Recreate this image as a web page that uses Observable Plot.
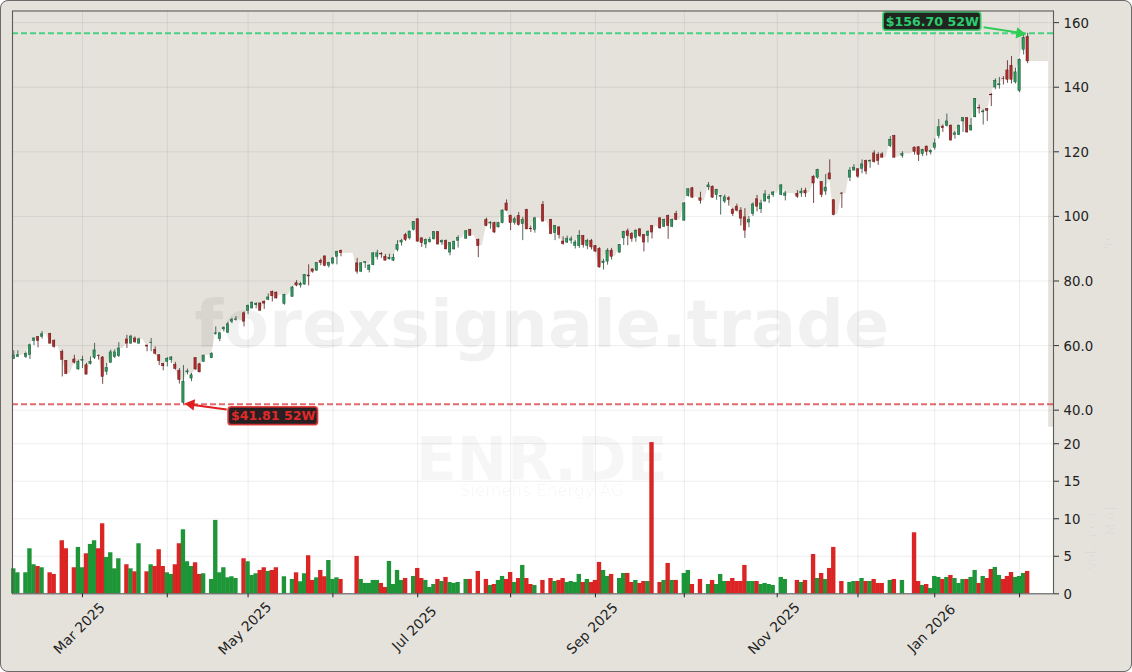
<!DOCTYPE html>
<html>
<head>
<meta charset="utf-8">
<script src="https://cdn.jsdelivr.net/npm/d3@7"></script>
<script src="https://cdn.jsdelivr.net/npm/@observablehq/plot@0.6"></script>
<style>
html,body{margin:0;padding:0;background:#fff}
#wrap{position:relative;width:1132px;height:672px;overflow:hidden}
#wrap svg{display:block;border-radius:8px}
#edge{position:absolute;inset:0;box-sizing:border-box;border:1.5px solid #6b6b6b;border-radius:8px;pointer-events:none}
</style>
</head>
<body>
<div id="wrap"><div id="edge"></div></div>
<script>
const opens = [
55.9,56.5,56.9,56.5,57.1,61.4,62.6,62.7,63.6,63.6,
61.4,59.7,58,55.2,51.4,55.7,52.6,55.3,53.9,54.3,
56.2,56.9,56.3,51.9,54.7,56.5,56.7,59.1,61.9,60.6,
62.2,60.6,61.9,60,60.8,58.6,57,54.3,55,55.5,
54,52.2,42.3,51.7,49.8,56.1,54.2,55,56.9,56.1,
63.6,62,65,64,67.4,67.9,67.9,70,70.7,71.5,
72.5,73.05,73.6,74.2,76.6,76.4,75.7,72.9,75.7,75.1,
79.3,78.6,78.9,81.7,83.6,83.2,86.2,87.6,84.7,85.4,
87.5,89.3,88.6,88.6,88.6,85.45,82.9,85.6,83.4,84.9,
87.5,88.3,87.5,86.7,86.3,89.6,91.9,94.2,93.2,95.8,
99.1,93.2,91.3,92,92.9,95.1,91.9,92.4,88.8,89.8,
92.4,93.2,93.1,95.8,94.1,92.7,91,98.9,97.8,97.9,
96.6,97.9,104,100.1,98,100.1,97.6,102,96.2,95.8,
99.4,103.5,98.5,98.9,94.8,96.6,92.2,91.9,92.5,90.9,
90.8,93.9,90.9,92.4,90.8,89.9,85.5,86,89.4,87.7,
88.8,93.2,95.4,94.5,93.4,96,94.2,93.9,97,97,
99.4,96.8,100.1,96.8,100.7,98.9,98.7,106.3,108.7,105.9,
105.6,104.9,109,109.2,106.6,106.1,104.6,105.6,102,103,
101.8,99.7,98.1,100.7,105.3,102.2,104.6,105.4,106.6,107.1,
106.7,106.4,107.1,107.1,107,107.1,107.9,107.3,112.3,112,
110.6,107.7,113.3,105,100.6,107.1,106.9,112,114.2,114.6,
114.7,117.2,117,119.5,119,119.2,118.2,121.8,124.9,118.3,
118.7,119.3,119.3,121.3,121.4,119.3,121.6,119.8,121.2,124.9,
127.8,128,128.1,125.2,125.2,129.4,130.4,126.6,130.7,133.5,
132.2,133.2,137.6,139.9,140.6,142.6,145.2,146.6,141.5,138.8,
151.6,155.5];
const highs = [
58.4,58.4,56.9,58,60.5,62.4,62.8,64.3,63.6,63.8,
61.8,59.7,58.6,55.4,51.4,57,55.5,56.7,54.5,56.5,
60.7,57,56.6,54.5,58.6,58.7,60.9,59.1,63.2,63.2,
62.7,62.3,61.9,60.1,62.2,59.6,57.2,54.5,56.3,56.6,
54.8,52.9,53.8,52.7,51.4,56.3,54.5,57,56.9,57.8,
65.8,64.1,65.8,67.2,68.5,69,67.9,70.4,72.6,73.5,
73.3,73.2,73.8,76,76.9,76.6,75.7,75.9,75.7,78.3,
80.1,79.6,82,85,83.7,85.7,86.8,87.8,85.8,87.3,
89.2,89.6,88.6,88.6,88.6,87,85.7,86,85,88.8,
89.5,88.8,88.2,88.3,88.3,92.5,92.9,94.8,95.5,98.4,
99.3,93.4,93,93.5,95.3,95.3,92.7,92.7,91.9,92.4,
94,93.2,95.6,96,94.1,93,91,99.5,98.4,98.2,
98.2,102,105.1,100.4,99.7,101.2,99.7,102.2,97,99.7,
99.4,104.6,98.5,99.1,97.2,96.8,93.7,93.9,93.7,92.5,
95.6,94.1,92.9,92.9,91,90.3,86.7,90,90.1,87.7,
91.3,95.4,96.1,95,95.8,96.2,94.4,95.6,97.2,97,
99.6,99.2,100.4,99.2,101.6,98.9,104.3,108.5,109,105.9,
107.5,104.9,110.5,109.4,108.4,106.4,106.6,106.1,102.5,103.8,
102.7,102.4,99.9,104.2,106.5,105,108,106.8,107.7,107.1,
109.9,107.7,107.1,107.1,108,108.7,108.7,107.3,112.6,114.6,
110.8,113,117.5,105.2,100.6,107.3,106.9,115.1,116,114.8,
117.5,117.4,117.5,120.3,119.7,119.7,118.2,124.7,125.1,118.3,
120,119.3,119.3,121.5,121.6,120.8,121.8,120.6,124,130,
128.3,131.7,128.3,126.3,128.3,130.6,130.6,130.3,136.5,134.5,
133,133.4,138.1,142.6,143,143.3,148.2,149.5,145.9,148.8,
156.3,156.7];
const lows = [
55.7,56.3,56.9,56,55.7,60,59.3,62,63.6,60.6,
59.2,59.7,50.3,51,51.4,54.3,52.4,52.9,51,54,
55.7,55.5,48,50.8,54.5,56,56.3,59.1,59.1,60.4,
60.7,60.4,61.9,58.1,58.1,57.1,53.8,52.2,53.4,54.5,
52.4,48.1,41.81,50.9,48.8,52.4,51.6,54.8,56.9,56,
63.2,61.2,64.2,63.7,66.8,67.6,67.9,65.8,69.6,71.3,
71.4,70.7,71.2,73.9,73.5,74.4,75.7,72.5,75.7,75,
78.2,77.8,78.7,78.5,82.4,83,84.7,84.4,84,85,
85,87.5,88.6,88.6,88.6,82.1,82.6,83.9,82.5,84.7,
86.5,87,86.2,86.5,86,89,90.8,92.2,92.7,95.5,
92,90.4,90,91.7,92.7,91.1,91,89.6,87.8,89.5,
90.2,93.2,93,93.8,94.1,87.2,91,96.8,96,94.8,
96.4,97.7,101.6,95.6,97.3,97,92.5,95.8,95,94.8,
99.4,98.2,98.5,94.3,92.5,93,91.1,91.6,91.4,89.9,
90.1,90.2,89.7,89.6,88.9,84,83.4,84.9,86.5,87.7,
88.6,91,90.9,92,92,93.5,89,91.8,93,97,
96,96.5,92.9,96.5,98.7,98.9,98.5,106,105.6,105.9,
103.8,104.9,108,105.6,105,100.4,104,103.2,100,101.4,
97,93.2,96.5,100,101.4,100.9,104.4,104,105.9,107.1,
106.4,104.8,107.1,107.1,105.6,105.9,105.9,107.3,104,111.5,
105.8,106.5,111.2,100.2,100.6,102.5,106.9,110.8,114,111.8,
113.2,112.9,114.9,116.5,115.8,118,118.2,121.3,118,118.3,
118,119.3,119.3,119,117,118.5,118.7,119,120.5,124,
126,127.7,123.3,123.9,125,126,125.7,126.4,130.5,131.7,
128.3,129.4,134,139.2,139.4,140.7,141.2,141,141,138.3,
150,147.3];
const closes = [
56.9,57,56.9,57.4,60.1,62.2,61.4,63.5,63.6,60.6,
59.6,59.7,55.6,51.2,51.4,54.7,54.9,55.6,51,55,
58.5,56.7,50.3,53,57.9,57.9,59.1,59.1,60.6,62.8,
61,61.9,61.9,59.7,60.9,57.5,55.2,53.6,55.8,56.3,
52.8,49.3,48.8,52,50.8,52.6,51.7,56.9,56.9,57.4,
63.8,63.8,65.4,66.6,67.9,68.1,67.9,67.4,72.3,73.3,
72.9,70.8,73,74.9,75.3,74.6,75.7,75.7,75.7,78,
78.6,79.1,81.8,81.4,82.9,85.5,85.6,84.7,85.5,87,
89,88.6,88.6,88.6,88.6,82.9,85.45,85.8,84.8,88.55,
88.55,88.2,86.3,87.2,87.2,91.1,92.4,92.7,95.3,98.2,
92.2,91.7,92.7,92.7,95.1,91.3,92.4,89.8,91.7,92.1,
93.3,93.2,95.4,94,94.1,90.8,91,97,97.9,95,
97.9,101.8,101.8,97.9,99.1,97.3,98.9,96,96,99.4,
99.4,98.4,98.5,94.5,97,94.2,91.4,93,92.9,91.9,
93.9,91.1,92.4,90.4,89.1,84.2,86,89.4,87.5,87.7,
91.1,95.2,93.9,93,95.6,93.9,91.9,95.1,95,97,
96.3,98.9,97,98.9,98.9,98.9,104,108.4,105.8,105.9,
104.8,104.9,109.6,105.8,108.2,106.3,105.9,105.1,100.7,101.8,
99.3,95.6,98.9,103.7,103,104,106.8,106.1,107.4,107.1,
109.6,107.1,107.1,107.1,106.1,107.7,107.1,107.3,110.2,114.4,
106.6,108.9,111.5,100.4,100.6,107,106.9,114.2,115.1,112.3,
116.1,113.9,117.1,116.8,117.2,118.2,118.2,123.7,118.2,118.3,
119.3,119.3,119.3,120,119,120.6,120,120.2,122.6,127.6,
127.3,129.4,123.5,125.7,128.1,130.4,126,128.1,136.3,133.4,
132.5,132.7,137.5,141.9,140.9,142.5,142.3,142.3,144.6,148.5,
155.2,148];
const volumes = [
3.33,2.8,0,2.8,6,3.87,3.64,3.47,0,2.8,
2.58,0,7.07,6,0,3.47,6.18,3.47,5.33,6.58,
7.07,6,9.33,4.84,5.47,3.33,4.67,0,3.87,3.33,
2.93,6.67,0,2.93,3.87,3.64,5.87,3.64,2.8,2.58,
3.87,6.67,8.53,4.27,3.64,4.13,2.58,2.67,0,1.91,
9.78,2.8,3.47,2.13,2.27,2.04,0,4.67,4.27,2.44,
2.67,3.11,3.47,2.98,3.11,3.47,0,2.27,0,1.91,
2.8,1.6,2.67,5.07,1.78,2.13,3.11,2.27,4.44,1.91,
2.13,1.91,0,0,0,4.98,1.91,1.38,1.38,1.78,
1.78,1.38,0.84,4.31,1.24,3.11,1.78,2.04,0,2.31,
3.38,2.04,1.78,0.84,1.24,1.91,1.64,2.18,1.51,1.38,
1.51,0,1.91,1.91,0,2.98,0,1.91,1.11,1.24,
1.78,2.31,1.91,2.84,1.51,2.04,3.78,2.04,1.24,1.11,
0,1.78,0,2.04,1.64,1.78,2.04,1.51,1.64,1.51,
2.58,1.51,1.91,1.51,1.78,4.18,3.11,2.31,2.58,0,
2.04,2.71,2.71,1.51,1.78,1.38,1.64,1.64,20.15,0,
1.51,1.78,4.04,1.78,1.78,0,2.71,3.11,1.24,0,
1.91,0,1.24,1.78,1.24,2.58,1.64,1.64,2.04,1.64,
1.64,3.78,1.64,1.64,1.64,1.24,1.38,1.24,1.11,0,
2.18,1.91,0,0,1.78,1.51,1.78,0,5.24,2.04,
2.71,1.91,3.38,6.18,0,1.64,0,1.51,1.64,1.64,
2.04,1.64,1.64,1.91,1.38,1.38,0,1.78,1.91,0,
1.78,0,0,8.13,1.64,1.11,1.24,0.71,2.31,2.18,
1.91,2.18,2.44,2.04,1.38,1.91,1.91,2.18,3.11,1.38,
2.31,2.04,3.24,3.51,2.44,1.91,2.31,2.84,2.18,2.31,
2.71,2.98];

const monthTicks = [17,38,58,79,100,123,144,166,189,209,228,249];
const monthLabels = [
  {i:17,label:"Mar 2025"},{i:58,label:"May 2025"},{i:100,label:"Jul 2025"},
  {i:144,label:"Sep 2025"},{i:189,label:"Nov 2025"},{i:228,label:"Jan 2026"}];
const priceTicks = [40,60,80,100,120,140,160];
const volumeTicks = [0,5,10,15,20];
const high52 = 156.70, low52 = 41.81;

const BG = "#e5e2dc";
const xMin = -0.32, xMax = 257.4, areaEnd = 256.2;
const volTop = 22.2, priceBottom = 34.73, priceTop = 163.6;

const rows = closes.map((c,i)=>({i,o:opens[i],h:highs[i],l:lows[i],c,v:volumes[i],up:c>=opens[i]}));
const shade = [{i:xMin,c:closes[0]},...rows.map(d=>({i:d.i,c:d.c})),{i:areaEnd,c:closes[closes.length-1]}];
const vol = rows.filter(d=>d.v>0);
const font = "DejaVu Sans";
const yFmt = d=>d>=40&&d<100?d.toFixed(1):String(d);

const chart = Plot.plot({
  width:1132, height:672,
  marginLeft:12, marginRight:79, marginTop:10.5, marginBottom:78.7,
  style:{background:BG,fontFamily:font,color:"#222"},
  x:{type:"linear",domain:[xMin,xMax]},
  y:{type:"linear",domain:[0,volTop,priceBottom,priceTop],range:[593.3,426.7,426.7,10.5]},
  color:{type:"identity"},
  marks:[
    Plot.frame({fill:"#fff",stroke:null}),
    Plot.areaY(shade,{x:"i",y1:"c",y2:priceTop,fill:BG}),
    Plot.rect([0],{x1:areaEnd,x2:xMax,y1:priceBottom,y2:priceTop,fill:BG}),
    Plot.ruleX(monthTicks,{stroke:"#000",strokeOpacity:0.07,strokeWidth:1}),
    Plot.ruleY([...priceTicks,...volumeTicks.slice(1)],{stroke:"#000",strokeOpacity:0.07,strokeWidth:1}),
    Plot.text(["forexsignale.trade"],{x:130.7,y:66.3,fontSize:66.7,fontWeight:"bold",fill:"#000",fillOpacity:0.055}),
    Plot.text(["ENR.DE"],{x:130.7,y:17.7,fontSize:60,fontWeight:"bold",fill:"#000",fillOpacity:0.035}),
    Plot.text(["Siemens Energy AG"],{x:130.7,y:13.8,fontSize:16.7,fill:"#000",fillOpacity:0.035}),
    Plot.text(["Preis"],{frameAnchor:"right",dx:54,y:98.2,rotate:-90,fontSize:13.3,fill:"#000",fillOpacity:0.03}),
    Plot.text(["Volumen"],{frameAnchor:"right",dx:38,y:10.84,rotate:-90,fontSize:13.3,fill:"#000",fillOpacity:0.03}),
    Plot.text(["[Mio]"],{frameAnchor:"right",dx:57,y:11.6,rotate:-90,fontSize:13.3,fill:"#000",fillOpacity:0.03}),
    Plot.ruleY([high52],{stroke:"#2ecc71",strokeWidth:2,strokeOpacity:0.85,strokeDasharray:"6,3"}),
    Plot.ruleY([low52],{stroke:"#d9363e",strokeWidth:2,strokeOpacity:0.75,strokeDasharray:"6,3"}),
    Plot.rect(vol,{x1:d=>d.i-0.54,x2:d=>d.i+0.54,y1:0,y2:"v",fill:d=>d.up?"#108f2c":"#d91616",fillOpacity:0.94}),
    Plot.ruleX(rows,{x:"i",y1:"l",y2:"h",stroke:d=>d.up?"#1d4a33":"#5c1a1a",strokeWidth:0.8}),
    Plot.rect(rows,{x1:d=>d.i-0.28,x2:d=>d.i+0.28,y1:"o",y2:"c",fill:d=>d.up?"#2a9d5c":"#b52a2a",stroke:d=>d.up?"#1d4a33":"#5c1a1a",strokeWidth:0.5}),
    Plot.link([0],{x1:240.1,y1:158.6,x2:249,y2:156.9,stroke:"#2ecc55",strokeWidth:2}),
    Plot.dot([0],{x:250,y:high52,dx:-4,symbol:"triangle",r:4.2,rotate:98,fill:"#2ecc55",stroke:null}),
    Plot.link([0],{x1:52.7,y1:40.2,x2:44,y2:41.7,stroke:"#e01e1e",strokeWidth:2}),
    Plot.dot([0],{x:42.9,y:low52,dx:4,symbol:"triangle",r:4.2,rotate:278,fill:"#e01e1e",stroke:null}),
    Plot.rect([0],{x1:215.3,x2:239.5,y1:157.5,y2:163.2,fill:"#20261f",stroke:"#3fd06f",strokeWidth:1.8,rx:3,strokeOpacity:0.9}),
    Plot.text(["$156.70 52W"],{x:227.4,y:160.3,fontSize:12.6,fontWeight:"bold",fill:"#2ecc71"}),
    Plot.rect([0],{x1:53.2,x2:75.3,y1:35.35,y2:40.84,fill:"#262022",stroke:"#dd3030",strokeWidth:1.8,rx:3,strokeOpacity:0.9}),
    Plot.text(["$41.81 52W"],{x:64.2,y:38.14,fontSize:12.6,fontWeight:"bold",fill:"#e02a2a"}),
    Plot.frame({stroke:"#5a5a5a",strokeWidth:1.1}),
    Plot.axisY([...volumeTicks,...priceTicks],{anchor:"right",label:null,tickSize:5,stroke:"#333",text:null}),
    Plot.axisY([...volumeTicks,...priceTicks],{anchor:"right",label:null,tickSize:0,tickPadding:10,dy:0.8,fontSize:13.3,stroke:null,tickFormat:yFmt}),
    Plot.axisX(monthTicks,{anchor:"bottom",label:null,tickSize:4,stroke:"#222",text:null}),
    Plot.text(monthLabels,{x:"i",frameAnchor:"bottom",dy:38,dx:0,text:"label",rotate:-45,fontSize:13.8,fill:"#222"})
  ]
});
document.getElementById("wrap").prepend(chart);
</script>
</body>
</html>
